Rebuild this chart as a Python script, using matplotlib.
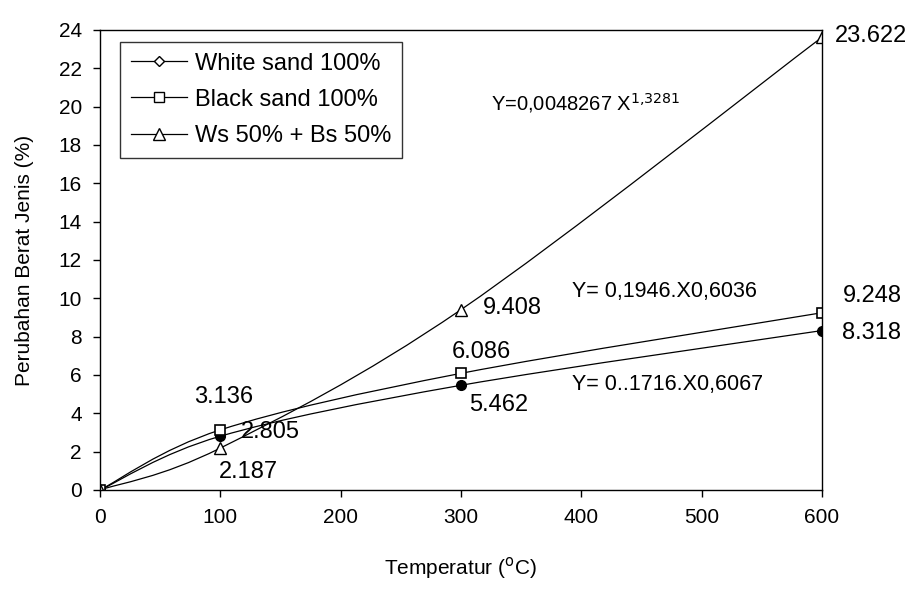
import matplotlib.pyplot as plt
from matplotlib.path import Path
from matplotlib.patches import PathPatch
from matplotlib.lines import Line2D

plt.rcParams['font.family'] = ['Liberation Sans', 'DejaVu Sans']

temperatures = [0, 100, 300, 600]
white_sand = [0, 2.805, 5.462, 8.318]
black_sand = [0, 3.136, 6.086, 9.248]
mixed_sand = [0, 2.187, 9.408, 23.622]

series_names = ['White sand 100%', 'Black sand 100%', 'Ws 50% + Bs 50%']

x_ticks = [0, 100, 200, 300, 400, 500, 600]
y_ticks = list(range(0, 25, 2))

# value labels: text, anchor x, anchor y
value_labels = [
    ('3.136', 78, 4.87), ('2.805', 117, 3.0), ('2.187', 99, 0.94),
    ('9.408', 318, 9.5), ('6.086', 292, 7.2), ('5.462', 307, 4.44),
    ('23.622', 611, 23.7), ('9.248', 617, 10.1), ('8.318', 617, 8.2),
]

equations = [
    (r'Y=0,0048267 X$^{1{,}3281}$', 325, 20.2, 14.5),
    ('Y= 0,1946.X0,6036', 392, 10.35, 15.5),
    ('Y= 0..1716.X0,6067', 392, 5.5, 15.5),
]


def smooth_path(xs, ys):
    # Excel style smoothed line: cubic bezier through every point
    pts = list(zip(xs, ys))
    verts = [pts[0]]
    codes = [Path.MOVETO]
    n = len(pts)
    for i in range(n - 1):
        p0 = pts[max(i - 1, 0)]
        p1 = pts[i]
        p2 = pts[i + 1]
        p3 = pts[min(i + 2, n - 1)]
        c1 = (p1[0] + (p2[0] - p0[0]) / 6, p1[1] + (p2[1] - p0[1]) / 6)
        c2 = (p2[0] - (p3[0] - p1[0]) / 6, p2[1] - (p3[1] - p1[1]) / 6)
        verts += [c1, c2, p2]
        codes += [Path.CURVE4] * 3
    return Path(verts, codes)


def main():
    fig = plt.figure(figsize=(9.24, 5.90), dpi=100)
    ax = fig.add_axes([0.1082, 0.1695, 0.7814, 0.7797])

    for ys in (white_sand, black_sand, mixed_sand):
        ax.add_patch(PathPatch(smooth_path(temperatures, ys), fill=False,
                               edgecolor='black', lw=0.9))

    ax.plot(temperatures, white_sand, ls='none', marker='o', ms=7,
            mfc='black', mec='black')
    ax.plot(temperatures, black_sand, ls='none', marker='s', ms=7,
            mfc='white', mec='black', mew=1.2)
    ax.plot(temperatures, mixed_sand, ls='none', marker='^', ms=8,
            mfc='white', mec='black', mew=1.0)

    for txt, x, y in value_labels:
        ax.text(x, y, txt, fontsize=17, va='center', ha='left')
    for txt, x, y, size in equations:
        ax.text(x, y, txt, fontsize=size, va='center', ha='left')

    handles = [
        Line2D([], [], color='black', lw=0.9, marker='D', ms=5, mfc='white', mec='black'),
        Line2D([], [], color='black', lw=0.9, marker='s', ms=7, mfc='white', mec='black'),
        Line2D([], [], color='black', lw=0.9, marker='^', ms=8, mfc='white', mec='black'),
    ]
    leg = ax.legend(handles, series_names, loc='upper left', fontsize=17,
                    bbox_to_anchor=(0.028, 0.974), borderaxespad=0,
                    frameon=True, fancybox=False,
                    edgecolor='black', handlelength=2.4, handletextpad=0.3,
                    borderpad=0.45, labelspacing=0.6)
    leg.get_frame().set_linewidth(1.0)

    ax.set_xlim(0, 600)
    ax.set_ylim(0, 24)
    ax.set_xticks(x_ticks)
    ax.set_yticks(y_ticks)
    ax.tick_params(labelsize=15, length=5, width=1, direction='out', pad=8)
    ax.set_xlabel(r'Temperatur ($^{\mathrm{o}}$C)', fontsize=15, labelpad=20)
    ax.set_ylabel('Perubahan Berat Jenis (%)', fontsize=15, labelpad=18)
    for s in ax.spines.values():
        s.set_linewidth(1.0)

    fig.savefig('out.png', dpi=100)


if __name__ == "__main__":
    main()
